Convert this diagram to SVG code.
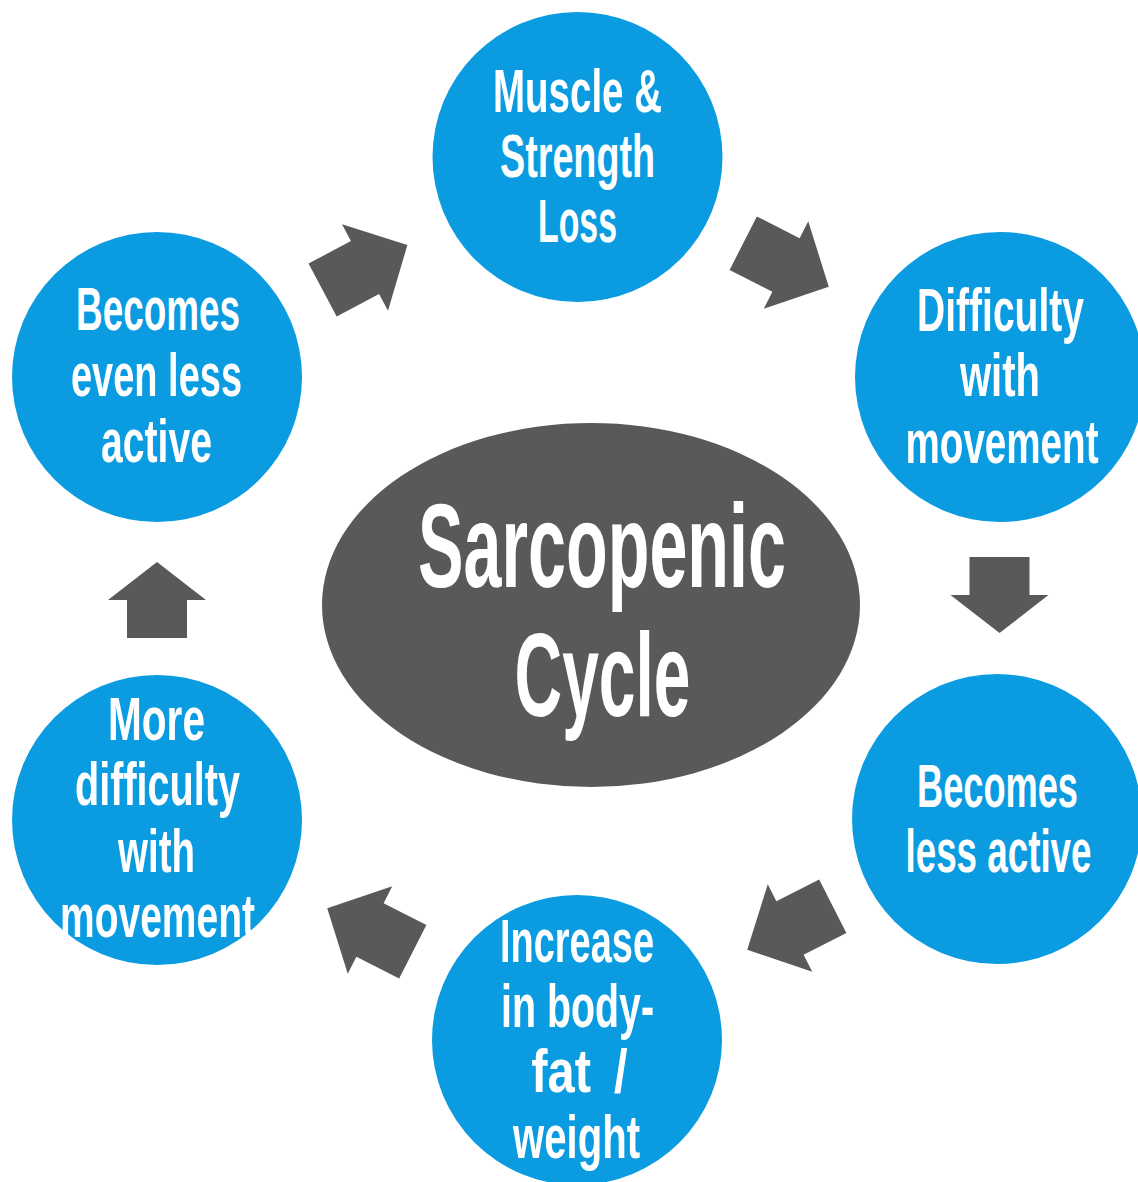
<svg xmlns="http://www.w3.org/2000/svg" width="1138" height="1182" viewBox="0 0 1138 1182">
<style>
.node{fill:#0A9BE0}
.hub{fill:#595959}
.t{fill:#ffffff;font-family:"Liberation Sans Narrow","Liberation Sans",Arial,sans-serif;font-weight:bold;font-size:61px;text-anchor:middle}
.big{font-size:118px}
.arr{fill:#595959}
</style>
<defs>
<polygon id="diag" points="-48,-30 0,-30 0,-49 48,0 0,49 0,30 -48,30"/>
<polygon id="vert" points="-38,-30 0,-30 0,-49 38,0 0,49 0,30 -38,30"/>
</defs>
<rect width="1138" height="1182" fill="#ffffff"/>
<g id="connectors" class="arr">
<use href="#diag" transform="translate(365,267.5) rotate(-28)"/>
<use href="#diag" transform="translate(786,265) rotate(27)"/>
<use href="#vert" transform="translate(999.5,595) rotate(90)"/>
<use href="#diag" transform="translate(790,928) rotate(153)"/>
<use href="#diag" transform="translate(370,930) rotate(207)"/>
<use href="#vert" transform="translate(157,600) rotate(-90)"/>
</g>
<g id="center">
<ellipse class="hub" cx="591" cy="605" rx="269" ry="182"/>
<text class="t big" x="602" y="587" textLength="368" lengthAdjust="spacingAndGlyphs">Sarcopenic</text>
<text class="t big" x="602.5" y="716" textLength="176" lengthAdjust="spacingAndGlyphs">Cycle</text>
</g>
<g id="n1">
<circle class="node" cx="577.5" cy="157" r="145"/>
<text class="t" x="577.5" y="112" textLength="169" lengthAdjust="spacingAndGlyphs">Muscle &amp;</text>
<text class="t" x="577.5" y="177" textLength="155" lengthAdjust="spacingAndGlyphs">Strength</text>
<text class="t" x="577.5" y="242" textLength="79" lengthAdjust="spacingAndGlyphs">Loss</text>
</g>
<g id="n2">
<circle class="node" cx="1000" cy="377" r="145"/>
<text class="t" x="1000.5" y="331" textLength="167" lengthAdjust="spacingAndGlyphs">Difficulty</text>
<text class="t" x="1000" y="396" textLength="80" lengthAdjust="spacingAndGlyphs">with</text>
<text class="t" x="1002" y="463" textLength="193" lengthAdjust="spacingAndGlyphs">movement</text>
</g>
<g id="n3">
<circle class="node" cx="997" cy="819" r="145"/>
<text class="t" x="997.5" y="807" textLength="161" lengthAdjust="spacingAndGlyphs">Becomes</text>
<text class="t" x="998.5" y="872" textLength="186" lengthAdjust="spacingAndGlyphs">less active</text>
</g>
<g id="n4">
<circle class="node" cx="577" cy="1040" r="145"/>
<text class="t" x="577" y="962" textLength="154" lengthAdjust="spacingAndGlyphs">Increase</text>
<text class="t" x="577.5" y="1027" textLength="153" lengthAdjust="spacingAndGlyphs">in body-</text>
<text class="t" transform="translate(579.5,1092) scale(0.8,1)" x="0" y="0" style="word-spacing:12px">fat /</text>
<text class="t" x="576.5" y="1158" textLength="127" lengthAdjust="spacingAndGlyphs">weight</text>
</g>
<g id="n5">
<circle class="node" cx="157" cy="820" r="145"/>
<text class="t" x="156.5" y="740" textLength="97" lengthAdjust="spacingAndGlyphs">More</text>
<text class="t" x="157.5" y="805" textLength="165" lengthAdjust="spacingAndGlyphs">difficulty</text>
<text class="t" x="156.5" y="872" textLength="77" lengthAdjust="spacingAndGlyphs">with</text>
<text class="t" x="157.5" y="937" textLength="195" lengthAdjust="spacingAndGlyphs">movement</text>
</g>
<g id="n6">
<circle class="node" cx="157" cy="377" r="145"/>
<text class="t" x="158" y="330" textLength="164" lengthAdjust="spacingAndGlyphs">Becomes</text>
<text class="t" x="156.5" y="396" textLength="171" lengthAdjust="spacingAndGlyphs">even less</text>
<text class="t" x="156.5" y="462" textLength="111" lengthAdjust="spacingAndGlyphs">active</text>
</g>
</svg>
